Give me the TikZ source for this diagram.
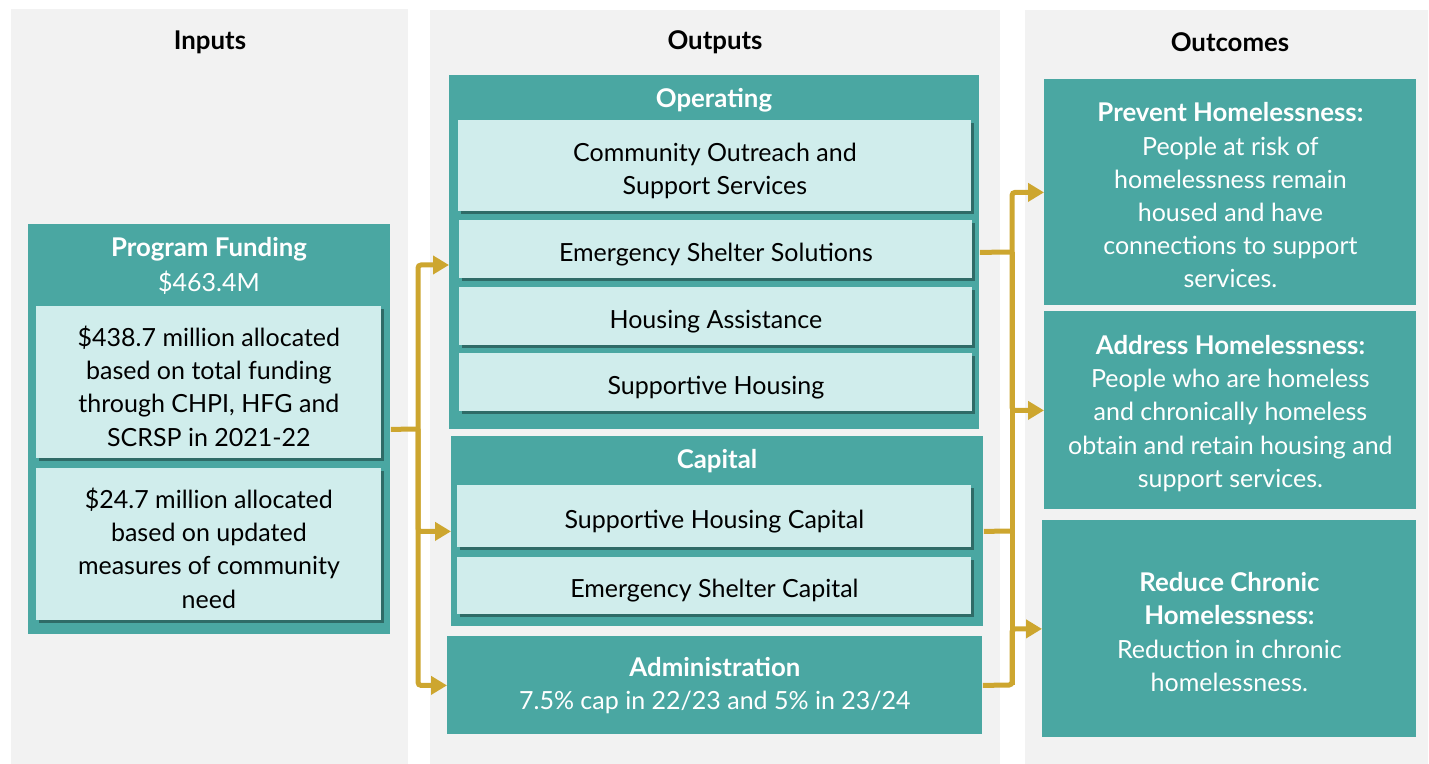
\documentclass[tikz,border=0pt]{standalone}
\usepackage{fontspec}
\setmainfont{Lato}
\usetikzlibrary{shadows,arrows.meta}
\definecolor{panelgray}{HTML}{F2F2F2}
\definecolor{tealbox}{HTML}{4AA7A2}
\definecolor{lightbox}{HTML}{D0EDEC}
\definecolor{goldline}{HTML}{CDA62F}
\newcommand\itemfont{\fontsize{12.5}{16.6}\selectfont}
\newcommand\titlefont{\fontsize{12.9}{16.6}\selectfont\bfseries}
\newcommand\itemstrut{\rule{0pt}{14pt}}
\newcommand\outcomestrut{\rule{0pt}{12.6pt}}
\tikzset{%
  panel/.style    = {fill=panelgray, draw=none},%
  header/.style   = {font=\titlefont, text=black},%
  outerbox/.style = {fill=tealbox, draw=none, anchor=north west, inner sep=0pt},%
  itembox/.style  = {fill=lightbox, draw=none, anchor=north west, inner sep=0pt,%
                     align=center, font=\itemfont,%
                     drop shadow={shadow xshift=1.2pt, shadow yshift=-1.5pt,%
                                  fill=black!60!tealbox, opacity=0.6}},%
  boxtitle/.style = {font=\titlefont, text=white},%
  boxsub/.style   = {font=\itemfont, text=white},%
  outcome/.style  = {outerbox, text=white, align=center, font=\itemfont},%
  flowline/.style = {draw=goldline, line width=2.5pt, rounded corners=1.5pt},%
  flow/.style     = {flowline, -{Triangle[length=8pt,width=9pt]}}%
}
\begin{document}
\begin{tikzpicture}[x=0.5pt,y=-0.5pt]
	\useasboundingbox (0,0) rectangle (1429,764);
	% column panels
	\fill[panel] (11,9) rectangle (408,764);
	\fill[panel] (430,10) rectangle (1000,764);
	\fill[panel] (1025,10) rectangle (1428,764);
	\node[header] (hIn) at (210,42) {Inputs};
	\node[header] (hOut) at (715,42) {Outputs};
	\node[header] (hOc) at (1230,42) {Outcomes};
	% inputs
	\node[outerbox, minimum width=181pt, minimum height=205pt] (fund) at (28,224) {};
	\node[boxtitle] (fundT) at (209,249) {Program Funding};
	\node[boxsub] (fundV) at (209,283) {\$463.4M};
	\node[itembox, minimum width=172.5pt, minimum height=76pt] (alloc1) at (36,306)
		{\itemstrut\$438.7 million allocated\\based on total funding\\through CHPI, HFG and\\SCRSP in 2021-22};
	\node[itembox, minimum width=172.5pt, minimum height=76pt] (alloc2) at (36,468)
		{\itemstrut\$24.7 million allocated\\based on updated\\measures of community\\need};
	% outputs
	\node[outerbox, minimum width=265pt, minimum height=177pt] (oper) at (449,75) {};
	\node[boxtitle] (operT) at (714,100) {Operating};
	\node[itembox, minimum width=256.5pt, minimum height=45.5pt] (outreach) at (458,120)
		{\itemstrut Community Outreach and\\Support Services};
	\node[itembox, minimum width=256.5pt, minimum height=29pt] (shelter) at (459,220)
		{\itemstrut Emergency Shelter Solutions};
	\node[itembox, minimum width=256.5pt, minimum height=29pt] (assist) at (459,287)
		{\itemstrut Housing Assistance};
	\node[itembox, minimum width=256.5pt, minimum height=29pt] (supp) at (459,353)
		{\itemstrut Supportive Housing};
	\node[outerbox, minimum width=266pt, minimum height=95pt] (cap) at (451,436) {};
	\node[boxtitle] (capT) at (717,461) {Capital};
	\node[itembox, minimum width=257pt, minimum height=31pt] (suppcap) at (457,485)
		{\itemstrut Supportive Housing Capital};
	\node[itembox, minimum width=257pt, minimum height=28.5pt] (sheltcap) at (457,557)
		{\itemstrut Emergency Shelter Capital};
	\node[outcome, minimum width=267.5pt, minimum height=49pt] (admin) at (447,636)
		{{\titlefont Administration}\\7.5\% cap in 22/23 and 5\% in 23/24};
	% outcomes
	\node[outcome, minimum width=186pt, minimum height=113pt] (prevent) at (1044,79)
		{\outcomestrut{\titlefont Prevent Homelessness:}\\People at risk of\\homelessness remain\\housed and have\\connections to support\\services.};
	\node[outcome, minimum width=186pt, minimum height=99pt] (address) at (1044,311)
		{\outcomestrut{\titlefont Address Homelessness:}\\People who are homeless\\and chronically homeless\\obtain and retain housing and\\support services.};
	\node[outcome, minimum width=187pt, minimum height=108.5pt] (reduce) at (1042,520)
		{\outcomestrut{\titlefont Reduce Chronic}\\{\titlefont Homelessness:}\\Reduction in chronic\\homelessness.};
	% connectors
	\coordinate (inSplit) at (418,429);
	\coordinate (operIn) at (449,265);
	\draw[flowline] (fund.east) -- (inSplit);
	\draw[flow] (inSplit) |- (operIn);
	\draw[flow] (inSplit) |- (cap.west);
	\draw[flow] (inSplit) |- (admin.west);
	\coordinate (outSplit) at (1012,252);
	\coordinate (capOut) at (1012,531);
	\coordinate (outTrunk) at (1012,685);
	\draw[flowline] (oper.east) -- (outSplit);
	\draw[flowline] (cap.east) -- (capOut);
	\draw[flowline] (outSplit) -- (outTrunk);
	\draw[flow] (outSplit) |- (prevent.west);
	\draw[flow] (outSplit) |- (address.west);
	\draw[flow] (admin.east) -- (outTrunk) |- (reduce.west);
\end{tikzpicture}
\end{document}
